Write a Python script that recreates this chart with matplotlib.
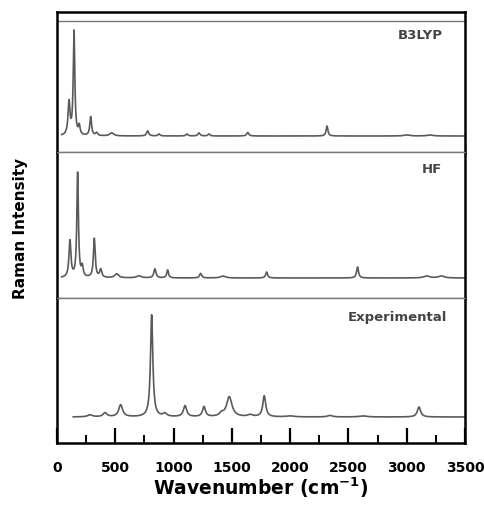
import numpy as np
import matplotlib.pyplot as plt

# peak lists: centre (cm-1), height, width (FWHM, cm-1)
b3lyp_pos = [103, 146, 191, 289, 340, 469, 778, 875, 1115, 1218, 1304, 1636, 2316, 3000, 3200]
b3lyp_hgt = [33, 104, 9, 19, 3, 3, 5, 2, 2, 3, 2, 3.5, 10, 1, 1]
b3lyp_wid = [20, 16, 16, 18, 20, 40, 22, 20, 20, 22, 20, 22, 18, 60, 60]

hf_pos = [111, 177, 217, 320, 375, 512, 703, 840, 949, 1232, 1424, 1798, 2578, 3170, 3298]
hf_hgt = [37, 106, 10, 39, 8, 4, 2, 9, 8, 4.5, 2, 6, 11, 2, 2]
hf_wid = [20, 16, 18, 18, 22, 40, 50, 22, 18, 22, 50, 20, 20, 60, 60]

exp_pos = [283, 412, 546, 812, 926, 1098, 1261, 1412, 1478, 1656, 1778, 1998, 2342, 2625, 3105]
exp_hgt = [2, 4, 12, 102, 3, 11, 10, 3, 20, 2, 21, 1, 1.5, 1, 10]
exp_wid = [50, 40, 40, 24, 40, 34, 30, 40, 55, 50, 30, 80, 50, 80, 34]

panel_names = ['B3LYP', 'HF', 'Experimental']
x_start = [40, 40, 140]


def spectrum(x, pos, hgt, wid):
    y = np.zeros_like(x)
    for p, h, w in zip(pos, hgt, wid):
        g = w / 2.0
        y += h * g**2 / ((x - p)**2 + g**2)
    return y


plt.rcParams['font.family'] = 'DejaVu Sans'
plt.rcParams['font.weight'] = 'bold'

fig = plt.figure(figsize=(4.85, 5.05), dpi=100)
H = 505.0
L, R = 57 / 485.0, 465 / 485.0
# panel edges in pixels from the top: 12-152, 152-298, 298-443
edges = [(12, 152), (152, 298), (298, 443)]
ylims = [(-16, 124), (-20, 126), (-26, 119)]
label_xy = [(420, 35), (432, 169), (397, 318)]

data = [(b3lyp_pos, b3lyp_hgt, b3lyp_wid),
        (hf_pos, hf_hgt, hf_wid),
        (exp_pos, exp_hgt, exp_wid)]

axes = []
for i, (top, bot) in enumerate(edges):
    ax = fig.add_axes([L, 1 - bot / H, R - L, (bot - top) / H])
    x = np.arange(x_start[i], 3500, 2.0)
    y = spectrum(x, *data[i])
    ax.plot(x, y, color='#5a5a5a', lw=1.2)
    ax.set_xlim(0, 3500)
    ax.set_ylim(*ylims[i])
    ax.set_yticks([])
    for s in ['left', 'right']:
        ax.spines[s].set_linewidth(1.8)
        ax.spines[s].set_color('black')
    ax.spines['top'].set_color('#777777')
    ax.spines['top'].set_linewidth(1.0)
    ax.spines['bottom'].set_color('#777777')
    ax.spines['bottom'].set_linewidth(1.0)
    lx, ly = label_xy[i]
    fig.text(lx / 485.0, 1 - ly / H, panel_names[i], ha='center', va='center',
             fontsize=9.5, fontweight='bold', color='#444444')
    axes.append(ax)

# outer frame edges
axes[0].spines['top'].set_color('black')
axes[0].spines['top'].set_linewidth(1.8)
axes[0].axhline(115, color='#777777', lw=1.0)
axes[2].spines['bottom'].set_color('black')
axes[2].spines['bottom'].set_linewidth(1.8)

for ax in axes[:2]:
    ax.set_xticks([])

ax = axes[2]
ax.set_xticks(np.arange(0, 3501, 500))
ax.set_xticks(np.arange(250, 3500, 500), minor=True)
ax.tick_params(axis='x', which='major', direction='in', length=11, width=1.6,
               labelsize=10, pad=13)
ax.tick_params(axis='x', which='minor', direction='in', length=6, width=1.4)
for t in ax.get_xticklabels():
    t.set_fontweight('bold')
ax.set_xlabel('Wavenumber (cm$^{\\mathbf{-1}}$)', fontsize=13.5, fontweight='bold',
              labelpad=0)

fig.text(21 / 485.0, 1 - 228 / H, 'Raman Intensity', rotation=90, ha='center',
         va='center', fontsize=11, fontweight='bold')

fig.savefig('out.png', dpi=100)
